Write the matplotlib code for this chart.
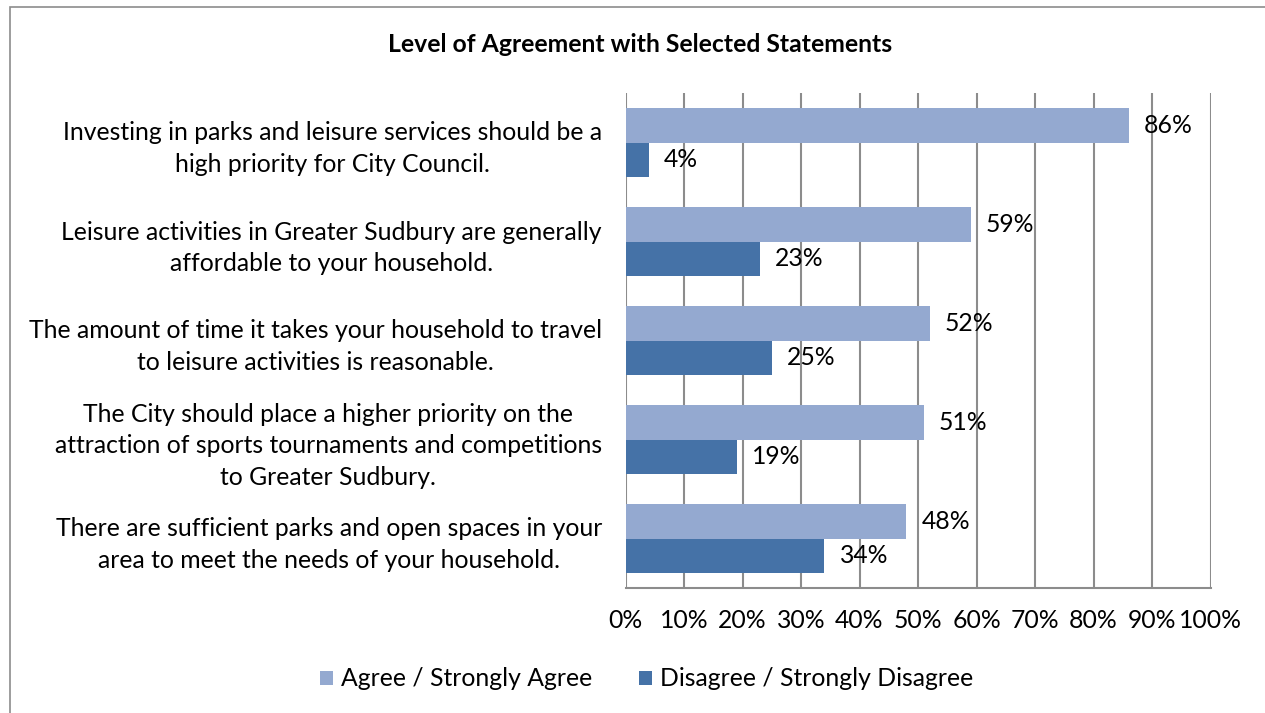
import matplotlib
matplotlib.use("Agg")
import matplotlib.pyplot as plt
from matplotlib.patches import Rectangle

plt.rcParams['font.family'] = ['Lato', 'DejaVu Sans']

categories = [
    "Investing in parks and leisure services should be a\nhigh priority for City Council.",
    "Leisure activities in Greater Sudbury are generally\naffordable to your household.",
    "The amount of time it takes your household to travel\nto leisure activities is reasonable.",
    "The City should place a higher priority on the\nattraction of sports tournaments and competitions\nto Greater Sudbury.",
    "There are sufficient parks and open spaces in your\narea to meet the needs of your household.",
]
agree = [86, 59, 52, 51, 48]
disagree = [4, 23, 25, 19, 34]
series_names = ["Agree / Strongly Agree", "Disagree / Strongly Disagree"]
xticks = [0, 10, 20, 30, 40, 50, 60, 70, 80, 90, 100]
xtick_labels = [f"{v}%" for v in xticks]

light = "#94A9D0"
dark = "#4572A7"
grid_c = "#8C8C8C"
FS = 17.8

W, H = 1265, 713
fig = plt.figure(figsize=(W / 100, H / 100), dpi=100)
fig.patch.set_facecolor("white")

# outer chart frame
fig.add_artist(Rectangle((10 / W, -0.05), 1.2, 1 - 7 / H + 0.05,
                         transform=fig.transFigure, fill=False,
                         edgecolor="#8C8C8C", linewidth=1.2))

ax = fig.add_axes([625.5 / W, 1 - 588 / H, 585 / W, 495 / H])
ypos = list(range(len(categories)))
h = 0.35
ax.barh([y - h / 2 for y in ypos], agree, height=h, color=light,
        label=series_names[0], zorder=3)
ax.barh([y + h / 2 for y in ypos], disagree, height=h, color=dark,
        label=series_names[1], zorder=3)

for y, v in zip(ypos, agree):
    ax.text(v + 2.6, y - h / 2, f"{v}%", va="center", ha="left",
            fontsize=FS, color="black", zorder=4)
for y, v in zip(ypos, disagree):
    ax.text(v + 2.6, y + h / 2, f"{v}%", va="center", ha="left",
            fontsize=FS, color="black", zorder=4)

ax.set_xlim(0, 100)
ax.set_ylim(len(categories) - 0.5, -0.5)
ax.set_xticks(xticks)
ax.set_xticklabels(xtick_labels, fontsize=FS)
ax.set_yticks(ypos)
ax.set_yticklabels(categories, fontsize=FS, multialignment="center",
                   linespacing=1.45)
ax.tick_params(axis="x", length=0, pad=15)
ax.tick_params(axis="y", length=0, pad=17)
ax.grid(axis="x", color=grid_c, linewidth=1.5, zorder=1)
for s in ["top", "right", "left"]:
    ax.spines[s].set_visible(False)
ax.spines["bottom"].set_color(grid_c)
ax.spines["bottom"].set_linewidth(1.5)

fig.text(640 / W, 1 - 45 / H, "Level of Agreement with Selected Statements",
         ha="center", va="center", fontsize=17.8, fontweight="bold")

fig.legend(loc="center", bbox_to_anchor=(647 / W, 1 - 679 / H), ncol=2,
           fontsize=FS, frameon=False, handlelength=0.5, handleheight=0.5,
           handletextpad=0.35, columnspacing=1.9)

fig.savefig("out.png", dpi=100)
